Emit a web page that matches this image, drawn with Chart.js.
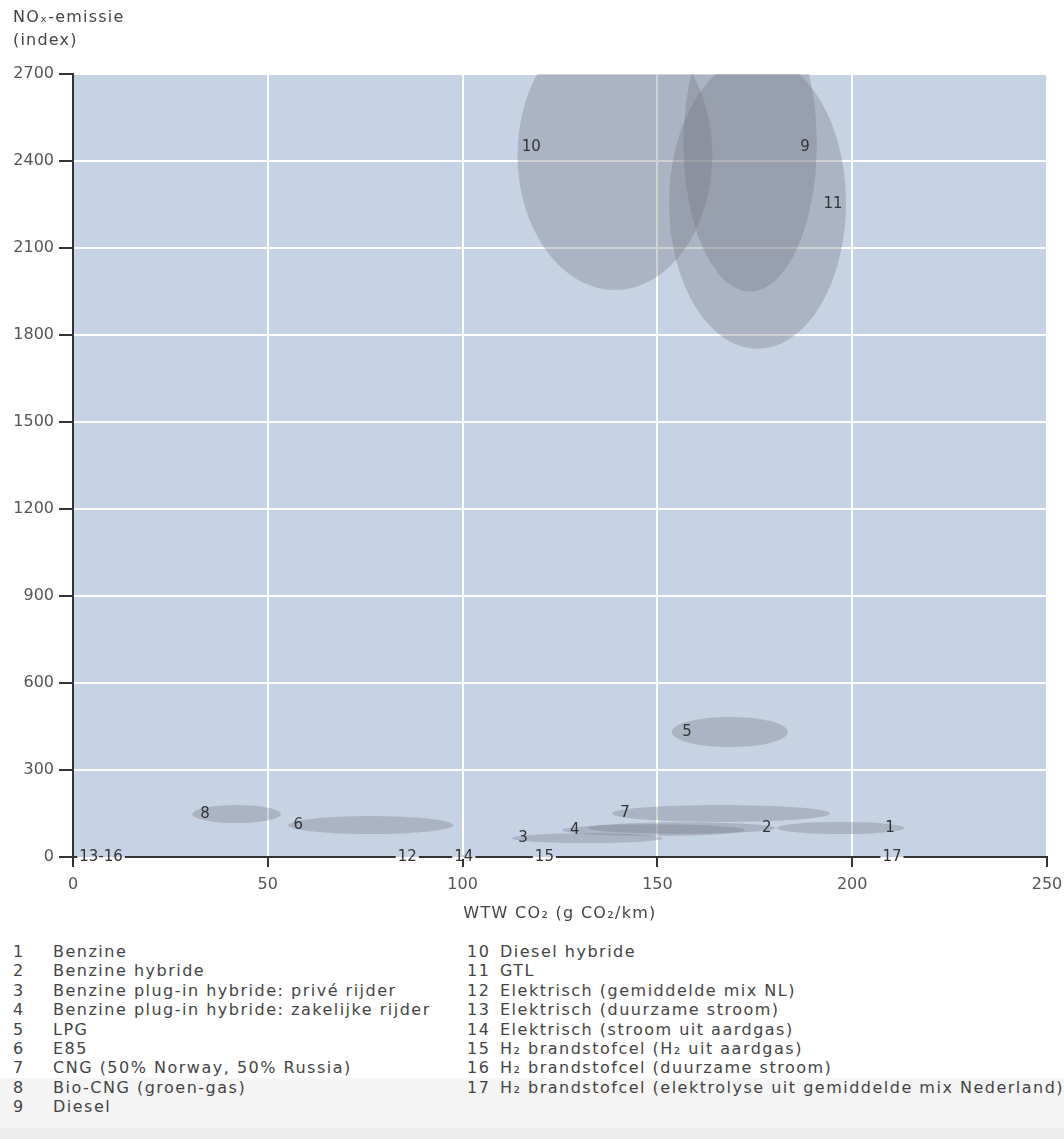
<!DOCTYPE html>
<html>
<head>
<meta charset="utf-8">
<script src="https://cdn.jsdelivr.net/npm/chart.js@4.4.1/dist/chart.umd.min.js"></script>
<style>
  body { margin: 0; background: #fff; font-family: "DejaVu Sans", sans-serif; color: #444; }
  #wrap { position: relative; width: 1064px; height: 1139px; overflow: hidden; }
  #chartBox { position: absolute; left: 0; top: 0; width: 1064px; height: 930px; }
  .ytitle { position: absolute; left: 13px; top: 5px; font-size: 16px; letter-spacing: 1.2px; line-height: 23px; color: #444; }
  .xtitle { position: absolute; left: 0; width: 1120px; top: 902px; text-align: center; font-size: 16px; letter-spacing: 1.3px; line-height: 22px; color: #444; }
  .band { position: absolute; left: 0; width: 1064px; }
  .leg { position: absolute; font-size: 16px; letter-spacing: 1.5px; line-height: 19.4px; color: #444; white-space: nowrap; }
</style>
</head>
<body>
<div id="wrap">
  <div class="band" style="top:1078px;height:50px;background:#f5f5f5"></div>
  <div class="band" style="top:1128px;height:11px;background:#ededed"></div>
  <div id="chartBox"><canvas id="noxChart" width="1064" height="930"></canvas></div>
  <div class="ytitle">NOₓ-emissie<br>(index)</div>
  <div class="xtitle">WTW CO₂ (g CO₂/km)</div>
  <div id="legend"></div>
</div>
<script>
// Ellipses: centre and half-width (CO2) / half-height (NOx)
const ellipseIds = ['1', '2', '3', '4', '5', '6', '7', '8', '9', '10', '11'];
const co2Center = [197.1, 156.2, 132.0, 149.0, 168.6, 76.4, 166.3, 42.0, 173.8, 139.1, 175.7];
const co2Spread = [16.4, 24.0, 19.4, 23.5, 14.9, 21.2, 28.0, 11.4, 17.1, 25.0, 22.7];
const noxCenter = [100, 100, 65, 93, 431, 110, 150, 148, 2460, 2420, 2255];
const noxSpread = [21, 20, 17, 20, 52, 31, 29, 31, 510, 465, 503];

// where the number of each ellipse is written
const labelCo2 = [209.7, 178.1, 115.5, 128.8, 157.6, 57.8, 141.7, 33.9, 187.9, 117.6, 195.1];
const labelNox = [100, 100, 65, 93, 431, 110, 150, 148, 2448, 2448, 2252];

// zero-NOx options sitting on the x axis
const zeroIds = ['13-16', '12', '14', '15', '17'];
const zeroCo2 = [7.2, 85.8, 100.3, 121.0, 210.2];

const xTicks = [0, 50, 100, 150, 200, 250];
const yTicks = [0, 300, 600, 900, 1200, 1500, 1800, 2100, 2400, 2700];

const legendNames = [
  'Benzine',
  'Benzine hybride',
  'Benzine plug-in hybride: privé rijder',
  'Benzine plug-in hybride: zakelijke rijder',
  'LPG',
  'E85',
  'CNG (50% Norway, 50% Russia)',
  'Bio-CNG (groen-gas)',
  'Diesel',
  'Diesel hybride',
  'GTL',
  'Elektrisch (gemiddelde mix NL)',
  'Elektrisch (duurzame stroom)',
  'Elektrisch (stroom uit aardgas)',
  'H₂ brandstofcel (H₂ uit aardgas)',
  'H₂ brandstofcel (duurzame stroom)',
  'H₂ brandstofcel (elektrolyse uit gemiddelde mix Nederland)'
];

const plotBg = '#c6d3e4';
const fontFamily = '"DejaVu Sans", sans-serif';

// Build the numbered legend below the chart.
const legend = document.getElementById('legend');
legendNames.forEach((name, i) => {
  const col = i < 9 ? 0 : 1;
  const row = col === 0 ? i : i - 9;
  const numLeft = col === 0 ? 13 : 467;
  const textLeft = col === 0 ? 53 : 500;
  const top = 942 + row * 19.4;
  const n = document.createElement('div');
  n.className = 'leg';
  n.style.left = numLeft + 'px';
  n.style.top = top + 'px';
  n.textContent = String(i + 1);
  legend.appendChild(n);
  const t = document.createElement('div');
  t.className = 'leg';
  t.style.left = textLeft + 'px';
  t.style.top = top + 'px';
  t.textContent = name;
  legend.appendChild(t);
});

// Light blue plot area behind the grid.
const plotBackground = {
  id: 'plotBackground',
  beforeDraw(chart) {
    const { ctx, chartArea } = chart;
    ctx.save();
    ctx.fillStyle = plotBg;
    ctx.fillRect(chartArea.left, chartArea.top, chartArea.right - chartArea.left, chartArea.bottom - chartArea.top);
    ctx.restore();
  }
};

// Ellipses and their numbers, positioned through the chart scales.
const ellipses = {
  id: 'ellipses',
  beforeDatasetsDraw(chart) {
    const { ctx, chartArea } = chart;
    const x = chart.scales.x;
    const y = chart.scales.y;
    ctx.save();
    ctx.beginPath();
    ctx.rect(chartArea.left, chartArea.top, chartArea.right - chartArea.left, chartArea.bottom - chartArea.top);
    ctx.clip();
    ctx.fillStyle = 'rgba(115, 118, 132, 0.33)';
    ellipseIds.forEach((id, i) => {
      const cx = x.getPixelForValue(co2Center[i]);
      const cy = y.getPixelForValue(noxCenter[i]);
      const rx = Math.abs(x.getPixelForValue(co2Center[i] + co2Spread[i]) - cx);
      const ry = Math.abs(y.getPixelForValue(noxCenter[i] + noxSpread[i]) - cy);
      ctx.beginPath();
      ctx.ellipse(cx, cy, rx, ry, 0, 0, Math.PI * 2);
      ctx.fill();
    });
    ctx.restore();
  },
  afterDatasetsDraw(chart) {
    const { ctx } = chart;
    const x = chart.scales.x;
    const y = chart.scales.y;
    ctx.save();
    ctx.font = '15px ' + fontFamily;
    ctx.fillStyle = '#333';
    ctx.textAlign = 'center';
    ctx.textBaseline = 'middle';
    ellipseIds.forEach((id, i) => {
      ctx.fillText(id, x.getPixelForValue(labelCo2[i]), y.getPixelForValue(labelNox[i]));
    });
    // labels on the axis line break it
    const y0 = y.getPixelForValue(0);
    zeroIds.forEach((id, i) => {
      const px = x.getPixelForValue(zeroCo2[i]);
      const w = ctx.measureText(id).width + 4;
      ctx.fillStyle = plotBg;
      ctx.fillRect(px - w / 2, y0 - 2, w, 2);
      ctx.fillStyle = '#fff';
      ctx.fillRect(px - w / 2, y0, w, 2);
      ctx.fillStyle = '#333';
      ctx.fillText(id, px, y0);
    });
    ctx.restore();
  }
};

new Chart(document.getElementById('noxChart'), {
  type: 'scatter',
  data: {
    datasets: [{
      data: co2Center.map((v, i) => ({ x: v, y: noxCenter[i] })),
      pointRadius: 0,
      pointHoverRadius: 0
    }]
  },
  options: {
    responsive: false,
    animation: false,
    events: [],
    layout: { padding: { top: 74, right: 17, left: 0, bottom: 0 } },
    plugins: {
      legend: { display: false },
      tooltip: { enabled: false }
    },
    scales: {
      x: {
        type: 'linear',
        min: 0,
        max: 250,
        afterBuildTicks: (scale) => { scale.ticks = xTicks.map(v => ({ value: v })); },
        afterFit: (scale) => {
          scale.height = 73;
          scale.paddingLeft = 0;
          scale.paddingRight = 0;
        },
        grid: { color: '#ffffff', lineWidth: 2, tickColor: '#333', tickLength: 10, tickWidth: 2 },
        border: { color: '#333', width: 2 },
        ticks: { color: '#555', font: { family: fontFamily, size: 16 }, padding: 8, maxRotation: 0, callback: v => String(v) }
      },
      y: {
        type: 'linear',
        min: 0,
        max: 2700,
        afterBuildTicks: (scale) => { scale.ticks = yTicks.map(v => ({ value: v })); },
        afterFit: (scale) => {
          scale.width = 73;
          scale.paddingTop = 0;
          scale.paddingBottom = 0;
        },
        grid: { color: '#ffffff', lineWidth: 2, tickColor: '#333', tickLength: 14, tickWidth: 2 },
        border: { color: '#333', width: 2 },
        ticks: { color: '#555', font: { family: fontFamily, size: 16 }, padding: 5, callback: v => String(v) }
      }
    }
  },
  plugins: [plotBackground, ellipses]
});
</script>
</body>
</html>
